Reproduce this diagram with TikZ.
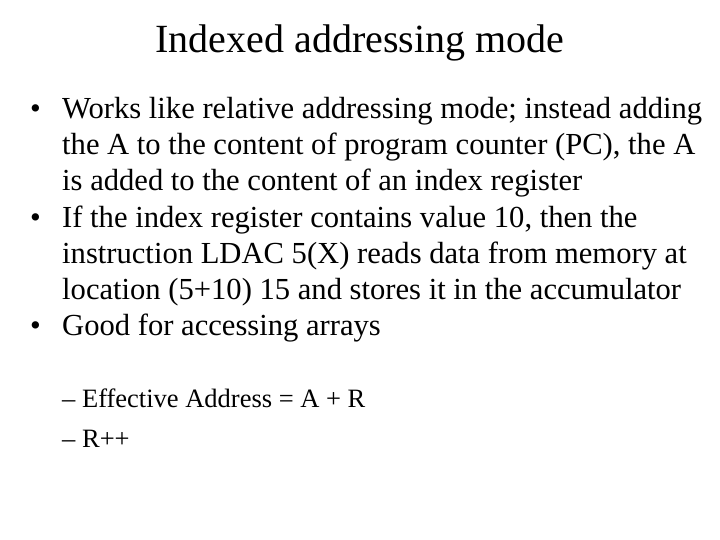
\documentclass[tikz,border=0pt]{standalone}
\usepackage{fontspec}
\setmainfont{Liberation Serif}
\begin{document}
\begin{tikzpicture}[x=1pt,y=-1pt,
  body/.style={anchor=base west,inner sep=0pt,font=\fontsize{30.6}{36}\selectfont},
  sub/.style={anchor=base west,inner sep=0pt,font=\fontsize{26.5}{30}\selectfont}]
\useasboundingbox (0,0) rectangle (720,540);
\node[anchor=base,inner sep=0pt,font=\fontsize{40}{44}\selectfont] (t) at (360,53) {Indexed addressing mode};
\node[body] (b1) at (30,119) {•};
\node[body] (l1) at (62,119) {Works like relative addressing mode; instead adding};
\node[body] (l2) at (62,155) {the A to the content of program counter (PC), the A};
\node[body] (l3) at (62,191) {is added to the content of an index register};
\node[body] (b2) at (30,227) {•};
\node[body] (l4) at (62,227) {If the index register contains value 10, then the};
\node[body] (l5) at (62,263) {instruction LDAC 5(X) reads data from memory at};
\node[body] (l6) at (62,299) {location (5+10) 15 and stores it in the accumulator};
\node[body] (b3) at (30,335) {•};
\node[body] (l7) at (62,335) {Good for accessing arrays};
\node[sub] (s1) at (62,407) {– Effective Address = A + R};
\node[sub] (s2) at (62,447) {– R++};
\end{tikzpicture}
\end{document}
